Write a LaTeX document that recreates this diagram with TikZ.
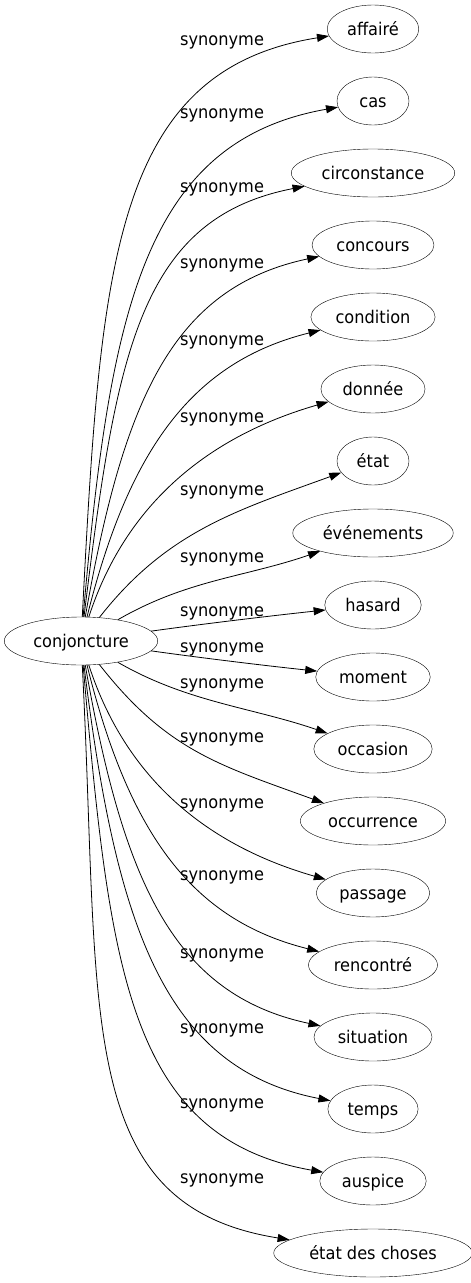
\documentclass[tikz,border=0pt]{standalone}
\usepackage{fontspec}
\setmainfont{DejaVu Sans}[FakeStretch=0.925]
\usetikzlibrary{arrows.meta,shapes.geometric}

\begin{document}
\begin{tikzpicture}[x=1pt,y=-1pt,font=\fontsize{17.5}{21}\selectfont,
  word/.style={draw,ellipse,inner xsep=6.5pt,inner ysep=2pt,minimum width=72pt,minimum height=48pt,text height=12pt,text depth=0pt},
  synlabel/.style={anchor=base west,inner sep=0pt},
  syn/.style={-{Triangle[length=12pt,width=8pt]},line width=0.8pt}]
\useasboundingbox (0,0) rectangle (471,1283);
\node[word] (conj) at (81,641) {conjoncture};
\foreach \tgt/\txt/\ty/\ly/\ao/\ai/\od/\id in {
  affaire/affairé/29/45/87/189/349/220,
  cas/cas/101/118/85/190/305/198,
  circonstance/circonstance/173/192/83/191/262/170,
  concours/concours/245/268/80/192/219/151,
  condition/condition/317/345/76/194/176/130,
  donnee/donnée/389/422/72/196/128/114,
  etat/état/461/495/52/200/110/110,
  evenements/événements/533/562/30/199/80/80,
  hasard/hasard/605/616/8/186/50/50,
  moment/moment/677/652/-8/174/50/50,
  occasion/occasion/749/688/-30/161/80/80,
  occurrence/occurrence/821/742/-52/160/110/110,
  passage/passage/893/808/-72/164/128/114,
  rencontre/rencontré/965/880/-76/166/176/130,
  situation/situation/1037/958/-80/168/219/151,
  temps/temps/1109/1033/-83/169/262/170,
  auspice/auspice/1181/1108/-85/170/305/198,
  etatdeschoses/état des choses/1253/1183/-87/171/349/220}{
  \node[word] (\tgt) at (373,\ty) {\txt};
  \node[synlabel] (l\tgt) at (180,\ly) {synonyme};
  \draw[syn] (conj) to[out=\ao,in=\ai,out distance=\od pt,in distance=\id pt] (\tgt);
}
\end{tikzpicture}
\end{document}
